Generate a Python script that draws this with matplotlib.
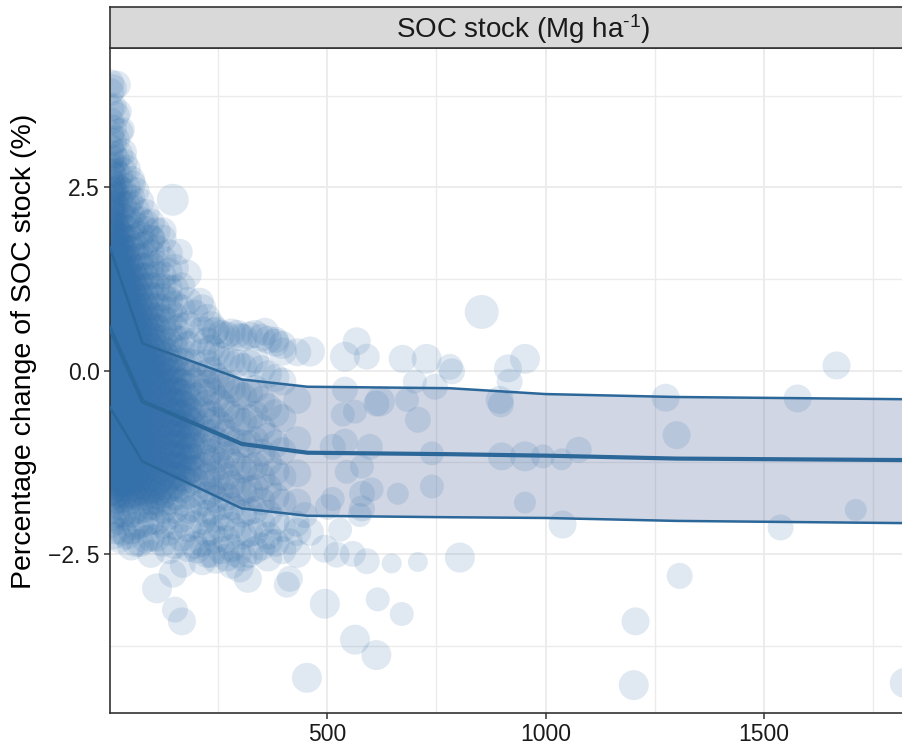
import matplotlib
matplotlib.use("Agg")
import matplotlib.pyplot as plt
import numpy as np

plt.rcParams['font.family'] = ['Liberation Sans', 'DejaVu Sans']
plt.rcParams['mathtext.fontset'] = 'custom'
plt.rcParams['mathtext.rm'] = 'Liberation Sans'
plt.rcParams['mathtext.default'] = 'regular'

# ---------------- data ----------------
strip_title = "SOC stock (Mg ha$^{\u20101}$)"
y_label = "Percentage change of SOC stock (%)"
x_ticks = [500, 1000, 1500]
x_tick_labels = ["500", "1000", "1500"]
y_ticks = [2.5, 0.0, -2.5]
y_tick_labels = ["2.5", "0.0", "\u22122. 5"]

# spread of observations (SOC stock column -> % changes)
cloud_columns = {
    4: [3.92, 3.8, 3.58, 3.4, 3.22, 3.04, 2.9, 2.78, 2.6, 2.47, 2.35, 2.2, 2.05, 1.92, 1.76, 1.63, 1.48, 1.3, 1.18, 1.02, 0.9, 0.74, 0.58, 0.46, 0.3, 0.17, 0.02, -0.12, -0.28, -0.41, -0.57, -0.7, -0.86, -1.0, -1.13, -1.3, -1.44, -1.57, -1.73, -1.92, -2.1],
    10: [3.85, 3.6, 3.3, 3.12, 2.95, 2.8, 2.66, 2.5, 2.38, 2.22, 2.1, 1.95, 1.8, 1.68, 1.52, 1.4, 1.24, 1.1, 0.96, 0.82, 0.67, 0.53, 0.38, 0.25, 0.1, -0.04, -0.2, -0.33, -0.48, -0.62, -0.78, -0.92, -1.06, -1.22, -1.36, -1.5, -1.65, -1.8, -2.0, -2.25],
    17: [3.48, 3.15, 2.88, 2.7, 2.52, 2.4, 2.26, 2.12, 1.98, 1.85, 1.7, 1.56, 1.42, 1.28, 1.14, 1.0, 0.86, 0.71, 0.58, 0.43, 0.3, 0.14, 0.0, -0.15, -0.3, -0.44, -0.59, -0.73, -0.88, -1.02, -1.17, -1.31, -1.46, -1.6, -1.76, -1.95, -2.18],
    25: [3.25, 2.95, 2.66, 2.48, 2.3, 2.15, 2.02, 1.88, 1.74, 1.6, 1.46, 1.33, 1.18, 1.05, 0.9, 0.77, 0.62, 0.48, 0.34, 0.2, 0.06, -0.08, -0.22, -0.37, -0.51, -0.66, -0.8, -0.95, -1.1, -1.24, -1.38, -1.53, -1.68, -1.85, -2.05, -2.3],
    33: [2.98, 2.72, 2.45, 2.25, 2.1, 1.96, 1.82, 1.68, 1.55, 1.4, 1.27, 1.12, 0.98, 0.84, 0.7, 0.56, 0.42, 0.28, 0.13, -0.01, -0.15, -0.3, -0.44, -0.58, -0.73, -0.87, -1.02, -1.16, -1.31, -1.45, -1.6, -1.75, -1.95, -2.2],
    42: [2.75, 2.5, 2.26, 2.08, 1.93, 1.8, 1.66, 1.52, 1.38, 1.24, 1.1, 0.96, 0.82, 0.68, 0.54, 0.4, 0.25, 0.11, -0.03, -0.18, -0.32, -0.47, -0.61, -0.76, -0.9, -1.05, -1.2, -1.34, -1.49, -1.63, -1.8, -2.0, -2.25],
    52: [2.6, 2.35, 2.12, 1.95, 1.8, 1.66, 1.52, 1.38, 1.25, 1.11, 0.97, 0.83, 0.69, 0.55, 0.41, 0.27, 0.12, -0.02, -0.16, -0.31, -0.45, -0.6, -0.74, -0.88, -1.03, -1.17, -1.32, -1.46, -1.61, -1.76, -1.95, -2.18, -2.4],
    62: [2.45, 2.2, 1.98, 1.82, 1.68, 1.55, 1.4, 1.27, 1.13, 0.99, 0.85, 0.71, 0.57, 0.43, 0.29, 0.15, 0.0, -0.14, -0.28, -0.43, -0.57, -0.72, -0.86, -1.0, -1.15, -1.3, -1.44, -1.58, -1.73, -1.9, -2.12, -2.35],
    73: [2.3, 2.05, 1.85, 1.7, 1.55, 1.42, 1.28, 1.14, 1.0, 0.86, 0.72, 0.58, 0.44, 0.3, 0.16, 0.02, -0.12, -0.26, -0.41, -0.55, -0.7, -0.84, -0.98, -1.13, -1.27, -1.42, -1.56, -1.72, -1.9, -2.1, -2.35],
    85: [2.15, 1.92, 1.72, 1.56, 1.42, 1.28, 1.14, 1.0, 0.86, 0.72, 0.58, 0.44, 0.3, 0.16, 0.02, -0.12, -0.27, -0.41, -0.55, -0.7, -0.84, -0.99, -1.13, -1.28, -1.42, -1.57, -1.72, -1.88, -2.08, -2.3],
    97: [2.02, 1.8, 1.6, 1.44, 1.3, 1.16, 1.02, 0.88, 0.74, 0.6, 0.46, 0.32, 0.18, 0.04, -0.1, -0.24, -0.38, -0.53, -0.67, -0.82, -0.96, -1.1, -1.25, -1.4, -1.54, -1.69, -1.85, -2.05, -2.28, -2.5],
    110: [1.9, 1.66, 1.45, 1.3, 1.15, 1.01, 0.87, 0.73, 0.59, 0.45, 0.31, 0.17, 0.03, -0.11, -0.25, -0.4, -0.54, -0.68, -0.83, -0.97, -1.12, -1.26, -1.41, -1.55, -1.7, -1.86, -2.05, -2.28],
    124: [1.8, 1.52, 1.3, 1.14, 1.0, 0.85, 0.71, 0.57, 0.43, 0.29, 0.15, 0.01, -0.13, -0.28, -0.42, -0.56, -0.71, -0.85, -1.0, -1.14, -1.29, -1.43, -1.58, -1.73, -1.9, -2.1, -2.35],
    138: [1.6, 1.35, 1.12, 0.96, 0.82, 0.67, 0.53, 0.39, 0.25, 0.11, -0.03, -0.17, -0.32, -0.46, -0.6, -0.75, -0.89, -1.04, -1.18, -1.33, -1.47, -1.62, -1.78, -1.98, -2.2, -2.45],
    152: [1.4, 1.12, 0.9, 0.74, 0.58, 0.44, 0.3, 0.16, 0.02, -0.12, -0.26, -0.41, -0.55, -0.7, -0.84, -0.98, -1.13, -1.27, -1.42, -1.56, -1.72, -1.9, -2.12, -2.38],
    167: [1.15, 0.85, 0.6, 0.42, 0.26, 0.12, -0.02, -0.16, -0.3, -0.45, -0.59, -0.73, -0.88, -1.02, -1.17, -1.31, -1.46, -1.62, -1.8, -2.02, -2.28],
    182: [0.95, 0.62, 0.35, 0.12, -0.06, -0.22, -0.37, -0.51, -0.65, -0.8, -0.94, -1.09, -1.23, -1.38, -1.53, -1.7, -1.9, -2.15, -2.42],
    197: [0.78, 0.4, 0.1, -0.15, -0.35, -0.52, -0.7, -0.86, -1.02, -1.18, -1.34, -1.5, -1.68, -1.88, -2.1, -2.38],
    215: [0.85, 0.55, 0.25, -0.05, -0.3, -0.55, -0.8, -1.05, -1.3, -1.55, -1.8, -2.05, -2.35, -2.6],
    225: [0.72, 0.4, 0.1, -0.18, -0.45, -0.7, -0.95, -1.2, -1.45, -1.7, -1.95, -2.22, -2.5],
    235: [0.62, 0.3, 0.0, -0.28, -0.6, -0.85, -1.12, -1.4, -1.65, -1.92, -2.2, -2.5],
    246: [0.55, 0.25, -0.08, -0.38, -0.68, -0.95, -1.22, -1.5, -1.75, -2.02, -2.3, -2.58],
    258: [0.5, 0.2, -0.15, -0.45, -0.75, -1.05, -1.3, -1.6, -1.85, -2.15, -2.45],
    270: [0.48, 0.15, -0.2, -0.52, -0.85, -1.15, -1.45, -1.72, -2.0, -2.3, -2.55],
    282: [0.52, 0.12, -0.25, -0.6, -0.95, -1.25, -1.55, -1.85, -2.12, -2.42, -2.65],
    295: [0.5, 0.1, -0.3, -0.65, -0.98, -1.3, -1.6, -1.9, -2.2, -2.5],
    308: [0.45, 0.05, -0.35, -0.7, -1.0, -1.35, -1.65, -1.95, -2.25, -2.55],
    322: [0.48, 0.1, -0.3, -0.65, -1.0, -1.32, -1.62, -1.92, -2.22, -2.5],
    335: [0.5, 0.15, -0.25, -0.6, -0.95, -1.3, -1.6, -1.9, -2.2, -2.45],
    350: [0.45, 0.02, -0.4, -0.78, -1.12, -1.45, -1.78, -2.08, -2.4],
    365: [0.42, -0.05, -0.5, -0.9, -1.25, -1.6, -1.95, -2.25, -2.55],
    382: [0.38, -0.1, -0.58, -1.0, -1.38, -1.72, -2.05, -2.35],
    398: [0.35, -0.15, -0.65, -1.1, -1.45, -1.8, -2.15, -2.45],
    432: [0.25, -0.4, -0.95, -1.4, -1.8, -2.2, -2.5],
}

# densest core of observations
core_columns = {
    7: [2.7, 2.55, 2.42, 2.28, 2.13, 1.98, 1.85, 1.7, 1.55, 1.41, 1.26, 1.12, 0.97, 0.83, 0.68, 0.54, 0.39, 0.24, 0.1, -0.05, -0.19, -0.34, -0.48, -0.63, -0.77, -0.92, -1.07, -1.21, -1.36, -1.5, -1.65],
    13: [2.44, 2.3, 2.16, 2.02, 1.88, 1.73, 1.59, 1.45, 1.31, 1.17, 1.03, 0.89, 0.75, 0.6, 0.46, 0.32, 0.18, 0.03, -0.11, -0.25, -0.4, -0.54, -0.69, -0.83, -0.98, -1.12, -1.27, -1.41, -1.56, -1.7],
    21: [1.91, 1.77, 1.63, 1.49, 1.35, 1.21, 1.07, 0.93, 0.79, 0.65, 0.51, 0.37, 0.22, 0.08, -0.07, -0.21, -0.36, -0.5, -0.65, -0.79, -0.94, -1.08, -1.23, -1.38, -1.52, -1.67],
    29: [1.81, 1.67, 1.53, 1.39, 1.25, 1.11, 0.97, 0.83, 0.69, 0.55, 0.41, 0.27, 0.13, -0.01, -0.15, -0.29, -0.44, -0.58, -0.73, -0.87, -1.02, -1.16, -1.31, -1.46, -1.6],
    37: [1.61, 1.47, 1.33, 1.19, 1.05, 0.91, 0.77, 0.63, 0.49, 0.35, 0.2, 0.06, -0.08, -0.23, -0.37, -0.51, -0.66, -0.8, -0.95, -1.09, -1.24, -1.38, -1.53, -1.68],
    47: [1.45, 1.31, 1.17, 1.03, 0.89, 0.75, 0.61, 0.47, 0.33, 0.18, 0.04, -0.1, -0.25, -0.39, -0.54, -0.68, -0.82, -0.97, -1.11, -1.26, -1.4, -1.55, -1.7],
    57: [1.32, 1.18, 1.04, 0.9, 0.76, 0.62, 0.48, 0.34, 0.2, 0.05, -0.09, -0.23, -0.38, -0.52, -0.67, -0.81, -0.95, -1.1, -1.24, -1.39, -1.53, -1.68],
    67: [1.2, 1.06, 0.92, 0.78, 0.64, 0.5, 0.36, 0.22, 0.08, -0.07, -0.21, -0.35, -0.5, -0.64, -0.79, -0.93, -1.07, -1.22, -1.37, -1.51, -1.65],
    79: [0.93, 0.79, 0.65, 0.51, 0.37, 0.23, 0.09, -0.05, -0.19, -0.34, -0.48, -0.62, -0.77, -0.91, -1.06, -1.2, -1.35, -1.49, -1.64],
    91: [0.8, 0.66, 0.52, 0.38, 0.24, 0.1, -0.04, -0.18, -0.32, -0.47, -0.61, -0.76, -0.9, -1.05, -1.19, -1.34, -1.48, -1.63, -1.78],
    103: [0.66, 0.52, 0.38, 0.24, 0.1, -0.04, -0.18, -0.32, -0.47, -0.61, -0.75, -0.9, -1.04, -1.19, -1.33, -1.48, -1.62, -1.78],
    117: [0.37, 0.23, 0.09, -0.05, -0.2, -0.34, -0.48, -0.62, -0.77, -0.91, -1.06, -1.2, -1.35, -1.49, -1.64, -1.8],
    131: [0.2, 0.06, -0.08, -0.22, -0.37, -0.51, -0.66, -0.8, -0.95, -1.09, -1.24, -1.38, -1.53, -1.68],
    145: [0.0, -0.14, -0.29, -0.43, -0.58, -0.72, -0.86, -1.01, -1.15, -1.3, -1.44, -1.59],
    159: [-0.14, -0.28, -0.43, -0.57, -0.72, -0.86, -1.0, -1.15, -1.3, -1.44, -1.6],
    174: [-0.31, -0.46, -0.6, -0.75, -0.89, -1.04, -1.18, -1.33, -1.48],
    189: [-0.56, -0.72, -0.88, -1.03, -1.18, -1.34],
}

# scattered observations: SOC stock, % change, point diameter (px)
scatter_x = [147, 163, 179, 124, 101, 88, 56, 37, 33, 26, 19, 53,
             209, 243, 300, 358, 383, 399, 461, 541, 568, 591, 673, 728, 781, 747, 701, 621,
             541, 564, 536, 541, 598, 580, 602, 580, 662, 740, 740, 708, 683, 613, 513, 545,
             580, 502, 513, 449, 431, 575,
             854, 786, 914, 953, 918, 895, 898, 900, 953, 994, 1037, 1076, 953, 804, 1039,
             1275, 1300, 1307, 1206, 1202, 1577, 1666, 1538, 1710, 1822,
             111, 147, 152, 168, 170, 202, 300, 319, 408, 415, 495, 454, 564, 613, 616, 671,
             648, 708, 591, 559, 522, 495, 461, 530, 369, 415]
scatter_y = [2.33, 1.62, 1.31, 1.9, 1.8, 2.03, 2.55, 2.85, 3.29, 3.53, 3.9, 2.3,
             0.94, 0.53, 0.46, 0.53, 0.42, 0.26, 0.26, 0.19, 0.40, 0.19, 0.16, 0.16, 0.05, -0.22, -0.15, -0.42,
             -0.26, -0.56, -0.6, -0.97, -1.04, -1.31, -1.62, -1.68, -1.68, -1.58, -1.13, -0.67, -0.4, -0.45, -1.04, -1.38,
             -1.88, -1.86, -1.75, -1.97, -2.09, -1.97,
             0.80, -0.01, 0.03, 0.16, -0.15, -0.40, -0.46, -1.17, -1.17, -1.17, -1.21, -1.08, -1.80, -2.55, -2.1,
             -0.37, -0.88, -2.8, -3.42, -4.29, -0.38, 0.07, -2.14, -1.9, -4.26,
             -2.97, -2.77, -3.26, -3.42, -2.65, -2.44, -2.7, -2.84, -2.92, -2.84, -3.18, -4.19, -3.67, -3.88, -3.12, -3.32,
             -2.63, -2.61, -2.6, -2.5, -2.51, -2.43, -2.2, -2.17, -2.33, -2.33]
scatter_d = [32, 26, 30, 28, 26, 24, 26, 26, 24, 24, 28, 24,
             28, 28, 28, 28, 26, 28, 30, 30, 28, 26, 28, 30, 26, 26, 24, 30,
             26, 24, 24, 26, 26, 24, 24, 26, 22, 24, 24, 26, 24, 26, 26, 24,
             26, 26, 24, 26, 26, 24,
             34, 26, 28, 30, 26, 28, 26, 28, 30, 24, 22, 26, 22, 30, 28,
             28, 28, 26, 28, 30, 28, 28, 26, 22, 30,
             30, 28, 26, 28, 26, 28, 28, 28, 26, 26, 30, 30, 30, 30, 24, 24,
             20, 20, 26, 26, 26, 28, 28, 24, 26, 26]
cloud_d = 28

# model fit: mean and bounds
fit_x = [3, 78, 305, 455, 780, 1000, 1300, 1818, 1894]
fit_upper = [1.68, 0.37, -0.12, -0.22, -0.24, -0.32, -0.36, -0.39, -0.39]
fit_mid = [0.58, -0.42, -1.0, -1.12, -1.14, -1.16, -1.20, -1.22, -1.22]
fit_lower = [-0.50, -1.24, -1.88, -1.98, -2.00, -2.01, -2.05, -2.08, -2.08]

# ---------------- figure ----------------
W, H = 903, 751
fig = plt.figure(figsize=(W / 100, H / 100), dpi=100)
fig.patch.set_facecolor('white')

px_left, px_right, px_top, px_bottom = 110, 936, 48, 713
ax = fig.add_axes([px_left / W, (H - px_bottom) / H, (px_right - px_left) / W, (px_bottom - px_top) / H])
ax.set_xlim(3.4, 1893.6)
ax.set_ylim(-4.67, 4.40)

ax.set_xticks(x_ticks)
ax.set_xticklabels(x_tick_labels)
ax.set_yticks(y_ticks)
ax.set_yticklabels(y_tick_labels)
ax.set_xticks([250, 750, 1250, 1750], minor=True)
ax.set_yticks([3.75, 1.25, -1.25, -3.75], minor=True)
ax.grid(True, which='major', color='#EBEBEB', lw=1.3, zorder=0)
ax.grid(True, which='minor', color='#EBEBEB', lw=1.0, zorder=0)
ax.set_axisbelow(True)
ax.tick_params(axis='both', which='major', length=4.5, width=1.1, color='#333333',
               labelsize=16.5, labelcolor='#1a1a1a', pad=3)
ax.tick_params(axis='both', which='minor', length=0)
for sp in ax.spines.values():
    sp.set_color('#333333')
    sp.set_linewidth(1.2)

pt_color = '#3470AA'
pt_alpha = 0.15

# ribbon
ax.fill_between(fit_x, fit_lower, fit_upper, color='#586C9E', alpha=0.28, lw=0, zorder=1.5)

for cols in (cloud_columns, core_columns):
    bx, by = [], []
    for cx, ys in cols.items():
        for yv in ys:
            bx.append(cx)
            by.append(yv)
    ax.scatter(bx, by, s=(cloud_d * 0.72) ** 2, color=pt_color, alpha=pt_alpha,
               edgecolors='none', zorder=2)
ax.scatter(scatter_x, scatter_y, s=(np.array(scatter_d) * 0.72) ** 2, color=pt_color,
           alpha=pt_alpha, edgecolors='none', zorder=2)

line_col = '#2C6799'
ax.plot(fit_x, fit_upper, color=line_col, lw=1.8, zorder=4)
ax.plot(fit_x, fit_lower, color=line_col, lw=1.8, zorder=4)
ax.plot(fit_x, fit_mid, color=line_col, lw=3.0, zorder=4)

# strip
sax = fig.add_axes([px_left / W, (H - px_top) / H, (px_right - px_left) / W, (px_top - 7) / H])
sax.set_facecolor('#D9D9D9')
sax.set_xticks([])
sax.set_yticks([])
for sp in sax.spines.values():
    sp.set_color('#333333')
    sp.set_linewidth(1.2)
sax.text(0.5, 0.45, strip_title, ha='center', va='center', fontsize=20, color='#1a1a1a',
         transform=sax.transAxes)

fig.text(24 / W, 1 - 351 / H, y_label, rotation=90, ha='center', va='center',
         fontsize=20.5, color='#000000')

fig.savefig('out.png', dpi=100)
